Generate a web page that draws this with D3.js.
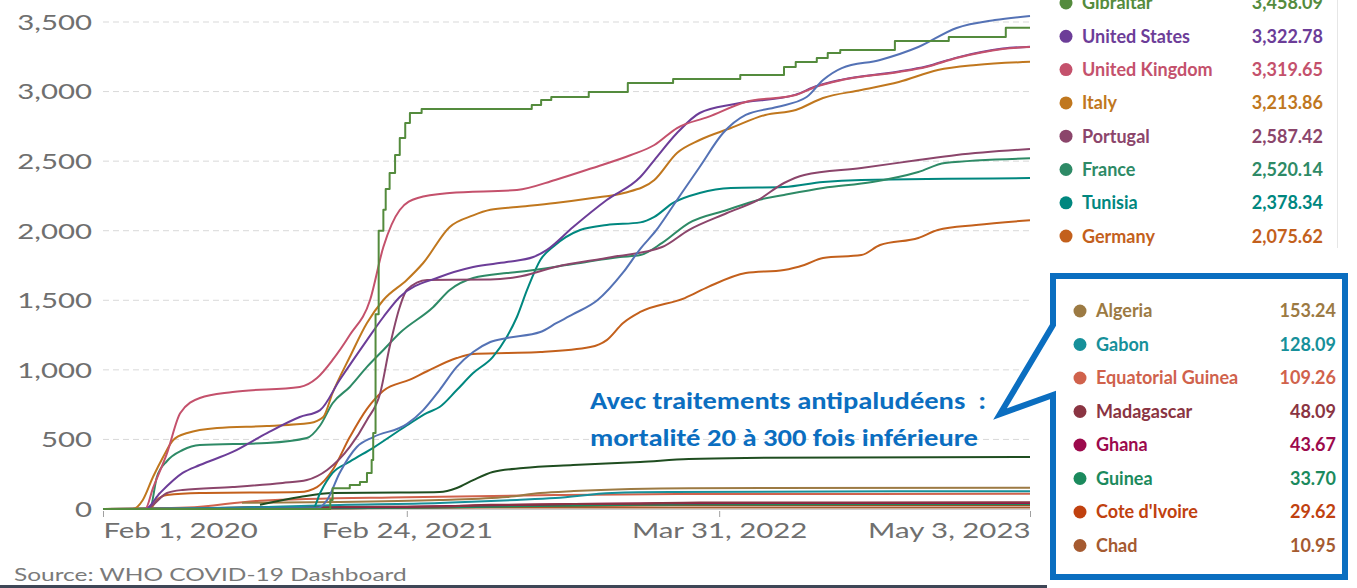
<!DOCTYPE html>
<html>
<head>
<meta charset="utf-8">
<script src="https://cdn.jsdelivr.net/npm/d3@7"></script>
<style>
  html, body { margin: 0; padding: 0; background: #ffffff; }
  svg { display: block; }
</style>
</head>
<body>
<svg id="chart" width="1357" height="588"></svg>
<script>
// ---------------- DATA ----------------
const xTickDates = ["2020-02-01", "2021-02-24", "2022-03-31", "2023-05-03"];
const xTickLabels = ["Feb 1, 2020", "Feb 24, 2021", "Mar 31, 2022", "May 3, 2023"];
const yTicks = [0, 500, 1000, 1500, 2000, 2500, 3000, 3500];

const gibraltar = [["2020-02-01",0],["2020-11-18",65],["2020-11-21",150],["2020-12-13",172],["2020-12-26",194],["2021-01-04",259],["2021-01-10",352],["2021-01-12",546],["2021-01-15",1400],["2021-01-19",2000],["2021-01-25",2150],["2021-01-28",2300],["2021-02-02",2415],["2021-02-09",2544],["2021-02-15",2666],["2021-02-22",2774],["2021-02-28",2846],["2021-03-15",2875],["2021-08-03",2904],["2021-08-15",2939],["2021-08-28",2961],["2021-10-15",2997],["2021-12-04",3061],["2022-01-31",3090],["2022-04-27",3119],["2022-06-22",3177],["2022-07-07",3213],["2022-08-03",3241],["2022-08-17",3277],["2022-09-02",3299],["2022-11-11",3364],["2023-01-19",3392],["2023-04-02",3458.09],["2023-05-03",3458.09]];
const unitedStates = [["2020-02-01",0],["2020-03-26",0],["2020-04-14",115],["2020-05-13",259],["2020-06-04",316],["2020-07-16",410],["2020-08-29",546],["2020-10-10",661],["2020-11-05",711],["2020-11-30",927],["2021-01-04",1214],["2021-01-25",1380],["2021-02-15",1524],["2021-04-07",1667],["2021-05-20",1739],["2021-07-02",1775],["2021-08-05",1811],["2021-08-22",1861],["2021-09-25",2027],["2021-11-07",2221],["2021-12-20",2386],["2022-01-07",2508],["2022-02-05",2702],["2022-03-06",2846],["2022-04-20",2911],["2022-07-07",2978],["2022-08-01",3036],["2022-09-04",3086],["2022-11-16",3144],["2022-12-21",3180],["2023-01-29",3244],["2023-03-29",3309],["2023-05-03",3322.78]];
const unitedKingdom = [["2020-02-01",0],["2020-03-26",0],["2020-04-05",150],["2020-04-23",402],["2020-05-10",690],["2020-06-04",798],["2020-07-16",841],["2020-10-10",877],["2020-11-01",941],["2020-11-21",1071],["2020-12-13",1250],["2021-01-08",1502],["2021-01-25",1883],["2021-02-15",2149],["2021-03-10",2235],["2021-04-20",2271],["2021-07-15",2293],["2021-09-02",2365],["2021-10-20",2451],["2021-12-08",2544],["2022-01-07",2616],["2022-02-05",2738],["2022-03-17",2818],["2022-05-04",2925],["2022-07-07",2975],["2022-08-01",3033],["2022-09-04",3083],["2022-11-16",3141],["2022-12-21",3177],["2023-01-29",3241],["2023-03-29",3306],["2023-05-03",3319.65]];
const italy = [["2020-02-01",0],["2020-03-10",0],["2020-03-23",65],["2020-04-05",230],["2020-04-18",374],["2020-05-01",496],["2020-05-19",546],["2020-06-26",582],["2020-08-29",597],["2020-10-23",618],["2020-11-09",661],["2020-11-21",834],["2020-12-13",1092],["2021-01-04",1337],["2021-01-25",1502],["2021-02-24",1646],["2021-03-17",1768],["2021-04-20",2027],["2021-05-20",2110],["2021-06-11",2150],["2021-07-15",2170],["2021-09-02",2199],["2021-10-20",2235],["2021-11-29",2271],["2022-01-07",2365],["2022-02-05",2559],["2022-03-06",2652],["2022-04-15",2738],["2022-05-29",2832],["2022-07-07",2868],["2022-08-11",2954],["2022-09-29",3011],["2022-11-16",3069],["2023-01-05",3155],["2023-02-23",3191],["2023-05-03",3213.86]];
const portugal = [["2020-02-01",0],["2020-03-26",0],["2020-04-01",14],["2020-04-23",115],["2020-05-13",137],["2020-07-16",158],["2020-09-18",187],["2020-10-19",208],["2020-11-14",280],["2020-12-13",446],["2021-01-04",640],["2021-01-21",834],["2021-02-02",1164],["2021-02-15",1452],["2021-02-24",1574],["2021-03-22",1646],["2021-06-11",1650],["2021-07-15",1667],["2021-09-02",1739],["2021-11-14",1811],["2022-01-17",1883],["2022-02-20",2005],["2022-04-10",2127],["2022-05-20",2221],["2022-06-22",2343],["2022-07-18",2401],["2022-09-29",2451],["2022-12-11",2508],["2023-01-29",2544],["2023-05-03",2587.42]];
const france = [["2020-02-01",0],["2020-04-01",0],["2020-04-10",230],["2020-04-23",345],["2020-05-13",424],["2020-06-04",460],["2020-08-29",474],["2020-10-19",510],["2020-11-05",600],["2020-11-21",760],["2020-12-13",877],["2021-01-04",1021],["2021-01-25",1143],["2021-02-15",1265],["2021-03-30",1452],["2021-04-20",1574],["2021-05-20",1660],["2021-07-02",1696],["2021-07-15",1703],["2021-09-25",1760],["2021-11-24",1811],["2021-12-20",1825],["2022-01-17",1912],["2022-02-20",2055],["2022-04-10",2149],["2022-05-20",2221],["2022-06-22",2257],["2022-08-11",2307],["2022-10-13",2350],["2022-12-11",2422],["2023-01-14",2487],["2023-05-03",2520.14]];
const tunisia = [["2020-02-01",0],["2020-10-27",5],["2020-11-05",115],["2020-11-21",259],["2020-12-13",340],["2021-01-12",440],["2021-02-24",600],["2021-03-22",690],["2021-04-07",733],["2021-04-29",855],["2021-05-20",977],["2021-06-14",1092],["2021-07-02",1236],["2021-07-15",1380],["2021-07-28",1574],["2021-08-14",1790],["2021-08-30",1883],["2021-10-04",2005],["2021-11-07",2041],["2021-12-20",2060],["2022-01-07",2100],["2022-01-31",2200],["2022-03-06",2271],["2022-04-15",2307],["2022-06-22",2314],["2022-08-11",2350],["2022-09-29",2365],["2023-05-03",2378.34]];
const germany = [["2020-02-01",0],["2020-04-01",0],["2020-04-10",65],["2020-04-23",101],["2020-06-04",115],["2020-10-10",122],["2020-11-01",158],["2020-11-21",280],["2020-12-13",517],["2021-01-04",720],["2021-01-25",850],["2021-02-28",930],["2021-03-22",990],["2021-04-29",1085],["2021-05-20",1114],["2021-07-02",1121],["2021-08-14",1128],["2021-10-17",1164],["2021-11-07",1214],["2021-11-28",1337],["2021-12-20",1416],["2022-02-15",1516],["2022-03-17",1596],["2022-05-04",1696],["2022-06-22",1718],["2022-07-18",1754],["2022-08-11",1804],["2022-09-29",1825],["2022-10-23",1897],["2022-12-11",1948],["2023-01-05",2005],["2023-02-23",2041],["2023-05-03",2075.62]];
const unlabelledBlue = [["2020-02-01",0],["2020-11-01",5],["2020-11-14",65],["2020-11-30",259],["2020-12-22",446],["2021-01-12",517],["2021-02-24",610],["2021-03-17",711],["2021-04-07",855],["2021-04-29",1021],["2021-05-20",1128],["2021-06-11",1200],["2021-07-02",1229],["2021-08-14",1272],["2021-09-04",1337],["2021-09-25",1400],["2021-10-26",1500],["2021-11-28",1700],["2021-12-20",1870],["2022-01-09",2000],["2022-02-05",2221],["2022-03-06",2458],["2022-04-05",2702],["2022-05-04",2832],["2022-06-13",2889],["2022-07-21",2961],["2022-08-11",3083],["2022-09-04",3169],["2022-10-23",3227],["2022-12-11",3320],["2023-01-29",3457],["2023-03-19",3514],["2023-05-03",3543]];
const unlabelledDarkGreen = [["2020-08-20",30],["2020-10-10",86],["2020-11-21",115],["2021-02-15",118],["2021-04-07",122],["2021-04-29",151],["2021-05-20",208],["2021-06-14",266],["2021-07-23",295],["2021-09-25",316],["2021-12-20",338],["2022-02-20",359],["2022-05-04",367],["2023-05-03",374]];
const algeria = [["2020-07-28",45],["2020-11-30",50],["2021-04-07",65],["2021-07-02",86],["2021-08-14",115],["2021-09-26",129],["2021-12-08",144],["2022-02-20",150],["2023-05-03",153.24]];
const gabon = [["2020-02-01",0],["2020-06-04",5],["2020-11-30",29],["2021-04-07",43],["2021-07-15",65],["2021-09-02",79],["2021-11-14",115],["2022-01-27",122],["2023-05-03",128.09]];
const equatorialGuinea = [["2020-02-01",0],["2020-05-19",10],["2020-08-20",60],["2021-02-24",85],["2021-09-02",100],["2022-02-05",107],["2023-05-03",109.26]];
const madagascar = [["2020-02-01",0],["2020-06-04",3],["2020-08-20",15],["2021-04-07",18],["2021-06-11",30],["2021-12-20",40],["2022-03-06",46],["2023-05-03",48.09]];
const ghana = [["2020-02-01",0],["2020-05-19",2],["2020-09-18",10],["2021-02-24",15],["2021-05-20",25],["2021-09-25",36],["2022-02-05",42],["2023-05-03",43.67]];
const guinea = [["2020-02-01",0],["2020-06-04",3],["2020-12-13",6],["2021-04-07",10],["2021-08-14",22],["2021-12-20",30],["2022-03-06",33],["2023-05-03",33.70]];
const coteDIvoire = [["2020-02-01",0],["2020-06-04",2],["2020-10-10",4],["2021-04-07",10],["2021-08-14",20],["2021-11-28",26],["2022-03-06",29],["2023-05-03",29.62]];
const chad = [["2020-02-01",0],["2020-05-19",4],["2020-12-13",6],["2021-04-07",10],["2023-05-03",10.95]];

// legend groups (name + final value)
const legendTopNames = ["Gibraltar","United States","United Kingdom","Italy","Portugal","France","Tunisia","Germany"];
const legendTopValues = [3458.09, 3322.78, 3319.65, 3213.86, 2587.42, 2520.14, 2378.34, 2075.62];
const legendBottomNames = ["Algeria","Gabon","Equatorial Guinea","Madagascar","Ghana","Guinea","Cote d'Ivoire","Chad"];
const legendBottomValues = [153.24, 128.09, 109.26, 48.09, 43.67, 33.70, 29.62, 10.95];

const annotationLines = ["Avec traitements antipaludéens \u00a0:", "mortalité 20 à 300 fois inférieure"];
const sourceText = "Source: WHO COVID-19 Dashboard";

// ---------------- STYLE ----------------
const colors = {
  "Gibraltar":"#548b3d","United States":"#6c3d98","United Kingdom":"#c4516c","Italy":"#c0771e",
  "Portugal":"#8b456b","France":"#2e8a66","Tunisia":"#00877f","Germany":"#c3601c",
  "blue":"#5472b5","darkgreen":"#1f4d20",
  "Algeria":"#9c7a43","Gabon":"#16909a","Equatorial Guinea":"#d0624c","Madagascar":"#8a3442",
  "Ghana":"#9c0a4c","Guinea":"#1b8a5d","Cote d'Ivoire":"#c0410f","Chad":"#a55a30"
};

// drawing order (bottom first)
const seriesList = [
  {key:"Chad", data:chad},
  {key:"Cote d'Ivoire", data:coteDIvoire},
  {key:"Guinea", data:guinea},
  {key:"Ghana", data:ghana},
  {key:"Madagascar", data:madagascar},
  {key:"Equatorial Guinea", data:equatorialGuinea},
  {key:"Gabon", data:gabon},
  {key:"Algeria", data:algeria},
  {key:"darkgreen", data:unlabelledDarkGreen},
  {key:"Germany", data:germany},
  {key:"Tunisia", data:tunisia},
  {key:"France", data:france},
  {key:"Portugal", data:portugal},
  {key:"Italy", data:italy},
  {key:"United States", data:unitedStates},
  {key:"United Kingdom", data:unitedKingdom},
  {key:"blue", data:unlabelledBlue},
  {key:"Gibraltar", data:gibraltar, step:true}
];

// ---------------- CHART ----------------
const svg = d3.select("#chart");
const parse = d3.utcParse("%Y-%m-%d");
const plot = {left:103, right:1030, top:22, bottom:509};
const textStretch = 1.40;

const x = d3.scaleUtc().domain([parse(xTickDates[0]), parse(xTickDates[3])]).range([plot.left, plot.right]);
const y = d3.scaleLinear().domain([0, 3500]).range([plot.bottom, plot.top]);

// gridlines
svg.append("g").selectAll("line").data(yTicks.filter(d => d > 0)).join("line")
  .attr("x1", plot.left).attr("x2", plot.right)
  .attr("y1", d => y(d)).attr("y2", d => y(d))
  .attr("stroke", "#d9d9d9").attr("stroke-width", 1).attr("stroke-dasharray", "6,4");

// y axis
const yAxis = svg.append("g").attr("transform", `translate(${plot.left},0)`)
  .call(d3.axisLeft(y).tickValues(yTicks).tickFormat(d3.format(",")).tickSize(0).tickPadding(0));
yAxis.select(".domain").remove();
yAxis.selectAll("text")
  .attr("x", -11 / textStretch).attr("dy", "0.35em")
  .attr("transform", `scale(${textStretch},1)`)
  .style("font-family", "Lato, 'Open Sans', sans-serif").style("font-size", "21px").style("fill", "#6f6f6f");

// x axis
const xAxis = svg.append("g").attr("transform", `translate(0,${plot.bottom})`)
  .call(d3.axisBottom(x).tickValues(xTickDates.map(parse)).tickFormat((d, i) => xTickLabels[i]).tickSize(7).tickPadding(0));
xAxis.select(".domain").attr("stroke", "#cccccc").attr("d", `M${plot.left},0.5H${plot.right}`);
xAxis.selectAll(".tick line").attr("stroke", "#a0a0a0").attr("y1", 2).attr("y2", 8);
xAxis.selectAll("text")
  .attr("y", 29).attr("dy", 0)
  .attr("transform", `scale(${textStretch},1)`)
  .attr("text-anchor", (d, i) => i === 0 ? "start" : (i === xTickDates.length - 1 ? "end" : "middle"))
  .style("font-family", "Lato, 'Open Sans', sans-serif").style("font-size", "21px").style("fill", "#6f6f6f");

// lines
const lineGen = d3.line().x(d => x(parse(d[0]))).y(d => y(d[1])).curve(d3.curveMonotoneX);
const stepGen = d3.line().x(d => x(parse(d[0]))).y(d => y(d[1])).curve(d3.curveStepAfter);
svg.append("g").selectAll("path").data(seriesList).join("path")
  .attr("d", s => (s.step ? stepGen : lineGen)(s.data))
  .attr("fill", "none")
  .attr("stroke", s => colors[s.key])
  .attr("stroke-width", 2)
  .attr("stroke-linejoin", "round");

// source
svg.append("text").attr("x", 14).attr("y", 581)
  .attr("transform", `translate(14,0) scale(${1.36},1) translate(-14,0)`)
  .style("font-family", "Lato, 'Open Sans', sans-serif").style("font-size", "18px").style("fill", "#7a7a7a")
  .text(sourceText);

// bottom dark border
svg.append("line").attr("x1", 0).attr("x2", 1047).attr("y1", 586.5).attr("y2", 586.5)
  .attr("stroke", "#3e4656").attr("stroke-width", 3);

// upper legend panel edge
svg.append("line").attr("x1", 1337.5).attr("x2", 1337.5).attr("y1", 0).attr("y2", 248)
  .attr("stroke", "#e6e6e6").attr("stroke-width", 1);

// upper legend
const legTop = svg.append("g");
legendTopNames.forEach((name, i) => {
  const cy = 3 + i * 33.3;
  legTop.append("circle").attr("cx", 1066).attr("cy", cy).attr("r", 6.5).attr("fill", colors[name]);
  legTop.append("text").attr("x", 1082).attr("y", cy).attr("dy", "0.36em")
    .style("font-family", "Lato, 'Open Sans', sans-serif").style("font-size", "18px").style("font-weight", "700")
    .style("fill", colors[name]).text(name);
  legTop.append("text").attr("x", 1323).attr("y", cy).attr("dy", "0.36em").attr("text-anchor", "end")
    .style("font-family", "Lato, 'Open Sans', sans-serif").style("font-size", "18px").style("font-weight", "700")
    .style("fill", colors[name]).text(d3.format(",.2f")(legendTopValues[i]));
});

// callout box
svg.append("path")
  .attr("d", "M1053,325 L1000,414 L1053,395 L1053,577 L1345,577 L1345,276 L1053,276 Z")
  .attr("fill", "#ffffff").attr("stroke", "#0b6ec0").attr("stroke-width", 6).attr("stroke-linejoin", "miter");

// lower legend
const legBot = svg.append("g");
legendBottomNames.forEach((name, i) => {
  const cy = 311 + i * 33.5;
  legBot.append("circle").attr("cx", 1080).attr("cy", cy).attr("r", 6.5).attr("fill", colors[name]);
  legBot.append("text").attr("x", 1096).attr("y", cy).attr("dy", "0.36em")
    .style("font-family", "Lato, 'Open Sans', sans-serif").style("font-size", "18px").style("font-weight", "700")
    .style("fill", colors[name]).text(name);
  legBot.append("text").attr("x", 1336).attr("y", cy).attr("dy", "0.36em").attr("text-anchor", "end")
    .style("font-family", "Lato, 'Open Sans', sans-serif").style("font-size", "18px").style("font-weight", "700")
    .style("fill", colors[name]).text(d3.format(",.2f")(legendBottomValues[i]));
});

// annotation
const annWidths = [396, 388];
annotationLines.forEach((t, i) => {
  svg.append("text").attr("x", 590).attr("y", 409 + i * 37)
    .attr("textLength", annWidths[i]).attr("lengthAdjust", "spacingAndGlyphs")
    .style("font-family", "Carlito, Calibri, 'Liberation Sans Narrow', 'Open Sans', sans-serif")
    .style("font-size", "24px").style("font-weight", "700").style("fill", "#0b6ec0")
    .text(t);
});
</script>
</body>
</html>
